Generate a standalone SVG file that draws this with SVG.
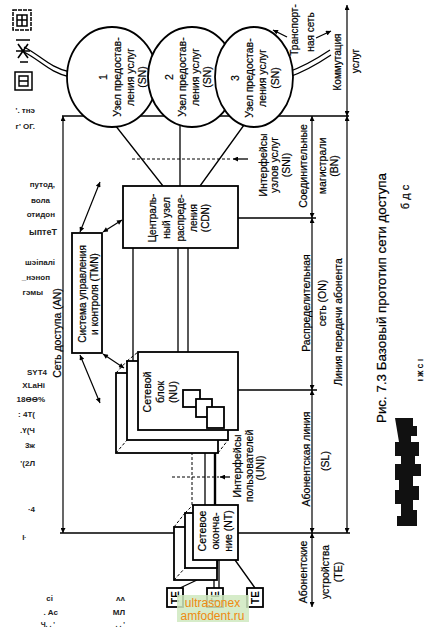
<svg xmlns="http://www.w3.org/2000/svg" width="424" height="632" viewBox="0 0 424 632">
<defs>
<marker id="ah" viewBox="0 0 10 10" refX="10" refY="5" markerUnits="userSpaceOnUse" markerWidth="7" markerHeight="5" orient="auto-start-reverse"><path d="M0,0 L10,5 L0,10 z" fill="#000"/></marker>
<style>
.ln{stroke:#000;stroke-width:1.3;fill:none}
.bx{stroke:#000;stroke-width:1.8;fill:#fff}
.dm{stroke:#000;stroke-width:1.2;fill:none;marker-start:url(#ah);marker-end:url(#ah)}
.ds{stroke:#000;stroke-width:1;fill:none;stroke-dasharray:3 2}
.t{font-family:"Liberation Sans",Arial,sans-serif;font-size:10px;text-anchor:middle;fill:#000;stroke:#000;stroke-width:0.2}
.c{font-size:10.5px}
.n{font-family:"Liberation Sans",Arial,sans-serif;font-size:8px;text-anchor:end;fill:#222;font-weight:bold}
.te{font-family:"Liberation Sans",Arial,sans-serif;font-size:10px;font-weight:bold;text-anchor:middle;fill:#000}
</style>
</defs>
<rect width="424" height="632" fill="#fff"/>

<g id="connectors">
 <path class="ln" d="M62,116 H349"/>
 <path class="dm" d="M63,116 V533"/>
 <path class="ln" d="M60,533 H174 M238,533 H350 M238,218 H316 M238,390 H317"/>
 <path class="dm" d="M312,116 V218"/>
 <path class="dm" d="M312,218 V390"/>
 <path class="dm" d="M312,390 V533"/>
 <path class="dm" d="M312,533 V607"/>
 <path class="dm" d="M347,5 V116"/>
 <path class="dm" d="M347,116 V533"/>
 <path class="ln" d="M115,125 L163,186 M180,126 V186 M244,125 L200,186"/>
 <path class="ds" d="M132,159 H232"/>
 <path class="ln" d="M248,159 H233" marker-end="url(#ah)"/>
 <path class="ln" d="M133,248 V361 M178,248 V352 M188,248 V352"/>
 <path class="ds" d="M192,407 V505"/>
 <path class="ln" d="M205,417 V505"/>
 <path class="ln" style="stroke-width:2.4" d="M215,428 V505"/>
 <path class="ds" d="M172,477 H219"/>
 <path class="ln" d="M230,477 H220" marker-end="url(#ah)"/>
 <path class="dm" d="M80,232 L100,182"/>
 <path class="dm" d="M103,232 L122,220"/>
 <path class="dm" d="M80,355 L100,403"/>
 <path class="dm" d="M103,354 L124,368"/>
 <path class="ln" d="M197,580 L180,588 M214,560 V588 M219,560 V588 M235,560 L255,588"/>
 <path class="ln" d="M24,47 C40,55 50,68 70,72 M24,52 C40,60 50,73 70,77"/>
 <path class="ln" d="M288,72 C305,66 318,58 330,50 M289,77 C306,71 319,63 331,55"/>
 <path class="ln" d="M287,37 L273,30" marker-end="url(#ah)"/>
 <path class="ln" d="M316,38 L331,31" marker-end="url(#ah)"/>
</g>

<g id="sn1">
 <ellipse class="bx" cx="112" cy="77" rx="45" ry="50"/>
 <text class="t c" transform="translate(107,77) rotate(-90)">1</text>
 <text class="t c" transform="translate(121,77) rotate(-90)">Узел предостав-</text>
 <text class="t c" transform="translate(134,77) rotate(-90)">ления услуг</text>
 <text class="t c" transform="translate(146,77) rotate(-90)">(SN)</text>
</g>
<g id="sn2">
 <ellipse class="bx" cx="192" cy="77" rx="44" ry="50"/>
 <text class="t c" transform="translate(173,77) rotate(-90)">2</text>
 <text class="t c" transform="translate(186,77) rotate(-90)">Узел предостав-</text>
 <text class="t c" transform="translate(199,77) rotate(-90)">ления услуг</text>
 <text class="t c" transform="translate(211,77) rotate(-90)">(SN)</text>
</g>
<g id="sn3">
 <ellipse class="bx" cx="254" cy="77" rx="39" ry="50"/>
 <text class="t c" transform="translate(239,78) rotate(-90)">3</text>
 <text class="t c" transform="translate(253,78) rotate(-90)">Узел предостав-</text>
 <text class="t c" transform="translate(266,78) rotate(-90)">ления услуг</text>
 <text class="t c" transform="translate(279,78) rotate(-90)">(SN)</text>
</g>

<g id="cdn">
 <rect class="bx" x="123" y="186" width="115" height="62"/>
 <text class="t" transform="translate(156,218) rotate(-90)">Централь-</text>
 <text class="t" transform="translate(170,218) rotate(-90)">ный узел</text>
 <text class="t" transform="translate(184,218) rotate(-90)">распреде-</text>
 <text class="t" transform="translate(197,218) rotate(-90)">ления</text>
 <text class="t" transform="translate(209,218) rotate(-90)">(CDN)</text>
</g>

<g id="tmn">
 <rect class="bx" x="72" y="233" width="30" height="120"/>
 <text class="t" transform="translate(86,294) rotate(-90)">Система управления</text>
 <text class="t" transform="translate(98,294) rotate(-90)">и контроля (TMN)</text>
</g>

<g id="nu">
 <rect class="bx" x="116" y="373" width="102" height="80"/>
 <rect class="bx" x="127" y="361" width="101" height="79"/>
 <rect class="bx" x="138" y="352" width="100" height="78"/>
 <path class="ds" d="M116,373 L127,361 M127,361 L138,352 M116,453 L127,440 M218,453 L228,440"/>
 <rect class="bx" x="183" y="390" width="17" height="17"/>
 <rect class="bx" x="196" y="399" width="16" height="18"/>
 <rect class="bx" x="207" y="407" width="17" height="21"/>
 <text class="t c" transform="translate(151,392) rotate(-90)">Сетевой</text>
 <text class="t c" transform="translate(164,392) rotate(-90)">блок</text>
 <text class="t c" transform="translate(177,392) rotate(-90)">(NU)</text>
</g>

<g id="nt">
 <rect class="bx" x="174" y="527" width="43" height="53"/>
 <rect class="bx" x="185" y="513" width="32" height="55"/>
 <rect class="bx" x="193" y="505" width="45" height="55"/>
 <path class="ds" d="M174,527 L185,513 M185,513 L193,505 M174,580 L185,568"/>
 <text class="t c" transform="translate(206,531) rotate(-90)">Сетевое</text>
 <text class="t c" transform="translate(219,531) rotate(-90)">оконча-</text>
 <text class="t c" transform="translate(232,531) rotate(-90)">ние (NT)</text>
</g>

<g id="te1"><rect class="bx" x="167" y="588" width="16" height="19"/><text class="te" transform="translate(178.5,597.5) rotate(-90)">TE</text></g>
<g id="te2"><rect class="bx" x="207" y="588" width="16" height="19"/><text class="te" transform="translate(218.5,597.5) rotate(-90)">TE</text></g>
<g id="te3"><rect class="bx" x="247" y="588" width="16" height="19"/><text class="te" transform="translate(258.5,597.5) rotate(-90)">TE</text></g>

<g id="labels">
 <text class="t" transform="translate(298,30) rotate(-90)">Транспорт-</text>
 <text class="t" transform="translate(314,32) rotate(-90)">ная сеть</text>
 <text class="t" transform="translate(341,62) rotate(-90)">Коммутация</text>
 <text class="t" transform="translate(359,61) rotate(-90)">услуг</text>
 <text class="t c" transform="translate(267,165) rotate(-90)">Интерфейсы</text>
 <text class="t c" transform="translate(278,165) rotate(-90)">узлов услуг</text>
 <text class="t c" transform="translate(290,165) rotate(-90)">(SNI)</text>
 <text class="t c" transform="translate(307,166) rotate(-90)">Соединительные</text>
 <text class="t c" transform="translate(326,166) rotate(-90)">магистрали</text>
 <text class="t c" transform="translate(338,166) rotate(-90)">(BN)</text>
 <text class="t c" transform="translate(310,303) rotate(-90)">Распределительная</text>
 <text class="t c" transform="translate(326,303) rotate(-90)">сеть (ON)</text>
 <text class="t c" transform="translate(342,322) rotate(-90)">Линия передачи абонента</text>
 <text class="t c" transform="translate(310,459) rotate(-90)">Абонентская линия</text>
 <text class="t c" transform="translate(329,461) rotate(-90)">(SL)</text>
 <text class="t c" transform="translate(307,572) rotate(-90)">Абонентские</text>
 <text class="t c" transform="translate(329,572) rotate(-90)">устройства</text>
 <text class="t c" transform="translate(342,572) rotate(-90)">(TE)</text>
 <text class="t c" transform="translate(241,466) rotate(-90)">Интерфейсы</text>
 <text class="t c" transform="translate(253,466) rotate(-90)">пользователей</text>
 <text class="t c" transform="translate(264,468) rotate(-90)">(UNI)</text>
 <text class="t c" transform="translate(61,333) rotate(-90)">Сеть доступа (AN)</text>
 <text class="t" style="font-size:13px" textLength="250" lengthAdjust="spacingAndGlyphs" transform="translate(386,298) rotate(-90)">Рис. 7.3 Базовый прототип сети доступа</text>
</g>

<g id="scan-noise">
 <rect x="13" y="10" width="18" height="20" fill="none" stroke="#000" stroke-width="1.5" stroke-dasharray="4 1"/>
 <path d="M17,15 H27 V26 H17 Z M17,20 H27 M22,15 V26" fill="none" stroke="#000" stroke-width="1.5"/>
 <path d="M16,40 H30 M18,44 L28,58 M28,44 L18,58 M16,51 H30 M20,62 H28" fill="none" stroke="#000" stroke-width="1.6"/>
 <rect x="15" y="72" width="17" height="18" fill="none" stroke="#000" stroke-width="1.5"/>
 <path d="M19,76 H28 V86 H19 Z M19,81 H28" fill="none" stroke="#000" stroke-width="1.4"/>
 <text class="n" x="35" y="113">'. тнэ</text>
 <text class="n" x="35" y="129">г' ОГ.</text>
 <text class="n" x="55" y="187">путод,</text>
 <text class="n" x="50" y="203">вола</text>
 <text class="n" x="55" y="217">отидон</text>
 <text class="n" x="57" y="235" style="font-size:9px">ыптеТ</text>
 <text class="n" x="55" y="265">шэіпалі</text>
 <text class="n" x="50" y="280">_нэноп</text>
 <text class="n" x="43" y="295">гэмы</text>
 <text class="n" x="47" y="375">SYT4</text>
 <text class="n" x="45" y="388">XLaHi</text>
 <text class="n" x="45" y="402">18ӨӨ%</text>
 <text class="n" x="35" y="417">: 4T(</text>
 <text class="n" x="35" y="433">.Ү(Ч</text>
 <text class="n" x="35" y="448">3ж</text>
 <text class="n" x="35" y="466">'(2Л</text>
 <text class="n" x="35" y="512">·4</text>
 <text class="n" x="26" y="540">ŀ</text>
 <text class="n" x="53" y="601">сі</text>
 <text class="n" x="125" y="601">ᴧᴧ</text>
 <text class="n" x="58" y="615">. Ас</text>
 <text class="n" x="125" y="615">МЛ</text>
 <text class="n" x="55" y="627" style="font-size:7px">Ч. . '</text>
 <text class="n" x="125" y="627" style="font-size:7px">. . '</text>
 <text class="t" style="font-size:11px" transform="translate(409,197) rotate(-90)">б д с</text>
 <text class="t" style="font-size:9px" transform="translate(423,370) rotate(-90)">ι ж с ı</text>
 <path d="M395,418 h18 v8 h4 v10 h-6 v6 h8 v14 h-4 v8 h6 v12 h-8 v10 h6 v14 h-6 v10 h4 v16 h-20 v-10 h4 v-12 h-6 v-14 h4 v-10 h-4 v-16 h6 v-8 h-6 v-14 h4 z" fill="#111"/>
</g>

<g id="watermark">
 <rect x="177" y="595" width="72" height="27" fill="#cfe9bf" opacity="0.85"/>
 <text x="212.5" y="607" style="font-family:'Liberation Sans',Arial,sans-serif;font-size:12px;fill:#ee8a10;text-anchor:middle">ultrasonex</text>
 <text x="212.5" y="620" style="font-family:'Liberation Sans',Arial,sans-serif;font-size:12px;fill:#ee8a10;text-anchor:middle">amfodent.ru</text>
</g>
</svg>
